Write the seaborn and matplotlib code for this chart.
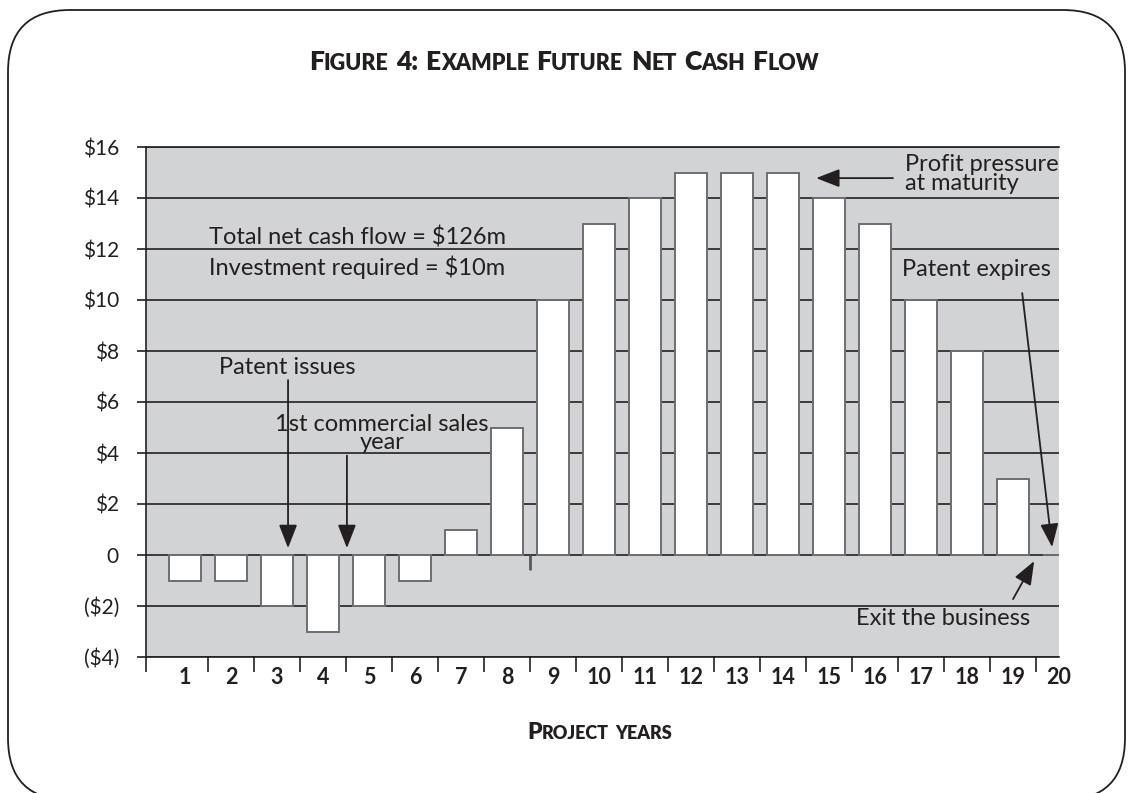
import matplotlib
matplotlib.use("Agg")
import matplotlib.pyplot as plt
import seaborn as sns
from matplotlib.patches import FancyBboxPatch
from matplotlib.transforms import IdentityTransform
from matplotlib.offsetbox import TextArea, HPacker, AnnotationBbox
from matplotlib.ticker import FixedLocator, FuncFormatter

# ---- data -------------------------------------------------------------
years = [str(y) for y in range(1, 21)]
net_cash_flow = [-1, -1, -2, -3, -2, -1, 1, 5, 10, 13,
                 14, 15, 15, 15, 14, 13, 10, 8, 3, 0]
y_ticks = [-4, -2, 0, 2, 4, 6, 8, 10, 12, 14, 16]

title_text = "Figure 4: Example Future Net Cash Flow"
xlabel_text = "Project years"

total_flow = sum(net_cash_flow)
investment = -sum(v for v in net_cash_flow if v < 0)

# ---- style ------------------------------------------------------------
INK = "#231f20"
PANEL = "#d1d3d4"
BAR_EDGE = "#6d6e71"
FONT = "Lato"

sns.set_theme(style="white")
plt.rcParams["font.family"] = [FONT, "DejaVu Sans"]
plt.rcParams["text.color"] = INK

W, H = 1128, 793
fig = plt.figure(figsize=(W / 100, H / 100), dpi=100)
fig.patch.set_facecolor("white")

# rounded frame around the whole figure (pixel coordinates)
frame = FancyBboxPatch((8, -7), 1117, 790,
                       boxstyle="round,pad=0,rounding_size=62",
                       transform=IdentityTransform(), fill=False,
                       edgecolor=INK, linewidth=1.3)
fig.patches.append(frame)

x_left, x_right = -0.848, 19.0
px_per_year = 46
ax = fig.add_axes([146 / W, 1 - 657 / H,
                   (x_right - x_left) * px_per_year / W, 510 / H])
ax.set_facecolor(PANEL)

sns.barplot(x=years, y=net_cash_flow, order=years, color="white",
            saturation=1, edgecolor=BAR_EDGE, linewidth=1.4, width=0.7,
            ax=ax, zorder=3)

ax.set_xlim(x_left, x_right)
ax.set_ylim(-4, 16)

# horizontal rules
ax.set_axisbelow(True)
ax.yaxis.grid(True, color=INK, linewidth=1.2, zorder=1)
ax.xaxis.grid(False)
for side in ("left", "top", "bottom"):
    ax.spines[side].set_visible(True)
    ax.spines[side].set_color(INK)
    ax.spines[side].set_linewidth(1.2)
ax.spines["right"].set_visible(False)

# y axis
ax.yaxis.set_major_locator(FixedLocator(y_ticks))


def money(v, _pos=None):
    v = int(round(v))
    if v == 0:
        return "0"
    if v < 0:
        return f"(${-v})"
    return f"${v}"


ax.yaxis.set_major_formatter(FuncFormatter(money))
ax.tick_params(axis="y", which="major", direction="out", length=6.5,
               width=1.2, color=INK, pad=13, labelsize=15, labelcolor=INK,
               left=True)

# x axis: labels centred on bars, tick marks between the bars
ax.tick_params(axis="x", which="major", length=0, pad=7, labelsize=15.5,
               labelcolor=INK)
for lab in ax.get_xticklabels():
    lab.set_fontweight("bold")
ax.xaxis.set_minor_locator(FixedLocator([x_left] + [i + 0.5 for i in range(19)]))
ax.tick_params(axis="x", which="minor", direction="out", length=11,
               width=1.2, color=INK, bottom=True)
ax.set_xlabel("")
ax.set_ylabel("")

# small mark under the zero line between years 8 and 9
ax.plot([7.5, 7.5], [0, -0.6], color="#58595b", lw=2, zorder=2,
        solid_capstyle="butt")

# ---- annotations ------------------------------------------------------
TXT = dict(fontsize=17, color=INK)
ARROW = dict(arrowstyle="-|>,head_length=0.9,head_width=0.35",
             color=INK, lw=1.3, shrinkA=0, shrinkB=0, mutation_scale=16)

ax.text(3.74, 12.47, f"Total net cash flow = ${total_flow}m",
        ha="center", va="center", zorder=5, **TXT)
ax.text(3.74, 11.3, f"Investment required = ${investment}m",
        ha="center", va="center", zorder=5, **TXT)

ax.text(2.22, 7.37, "Patent issues", ha="center", va="center", zorder=5, **TXT)
ax.annotate("", xy=(2.24, 0.27), xytext=(2.24, 6.86), arrowprops=ARROW,
            zorder=5)

ax.text(4.28, 4.76, "1st commercial sales\nyear", ha="center", va="center",
        linespacing=0.85, zorder=5, **TXT)
ax.annotate("", xy=(3.52, 0.27), xytext=(3.52, 3.9), arrowprops=ARROW,
            zorder=5)

ax.text(15.65, 14.94, "Profit pressure\nat maturity", ha="left",
        va="center", linespacing=0.85, zorder=5, **TXT)
ax.annotate("", xy=(13.72, 14.78), xytext=(15.39, 14.78), arrowprops=ARROW,
            zorder=5)

ax.text(15.59, 11.18, "Patent expires", ha="left", va="center", zorder=5,
        **TXT)
ax.annotate("", xy=(18.85, 0.31), xytext=(18.2, 10.27), arrowprops=ARROW,
            zorder=5)

ax.text(16.48, -2.5, "Exit the business", ha="center", va="center",
        zorder=5, **TXT)
ax.annotate("", xy=(18.46, -0.24), xytext=(18.0, -1.73), arrowprops=ARROW,
            zorder=5)


# ---- small-caps headings ----------------------------------------------
def small_caps(text, big, small, weight="bold"):
    words = []
    for word in text.split(" "):
        runs, cur, cur_small = [], "", None
        for ch in word:
            is_small = ch.islower()
            if cur and is_small != cur_small:
                runs.append((cur, cur_small))
                cur = ""
            cur += ch.upper()
            cur_small = is_small
        if cur:
            runs.append((cur, cur_small))
        parts = [TextArea(s, textprops=dict(fontsize=small if sm else big,
                                            fontweight=weight, color=INK,
                                            family=[FONT, "DejaVu Sans"]))
                 for s, sm in runs]
        words.append(HPacker(children=parts, align="baseline", pad=0, sep=0))
    return HPacker(children=words, align="baseline", pad=0, sep=big * 0.28)


title_box = small_caps(title_text, 19, 15.5, weight="heavy")
fig.add_artist(AnnotationBbox(title_box, (0.5, 1 - 74 / H),
                              xycoords="figure fraction", frameon=False,
                              box_alignment=(0.5, 0.0), pad=0))

xlabel_box = small_caps(xlabel_text, 16.5, 13, weight="heavy")
fig.add_artist(AnnotationBbox(xlabel_box, (600 / W, 1 - 743 / H),
                              xycoords="figure fraction", frameon=False,
                              box_alignment=(0.5, 0.0), pad=0))

fig.savefig("out.png", dpi=100, facecolor="white")
